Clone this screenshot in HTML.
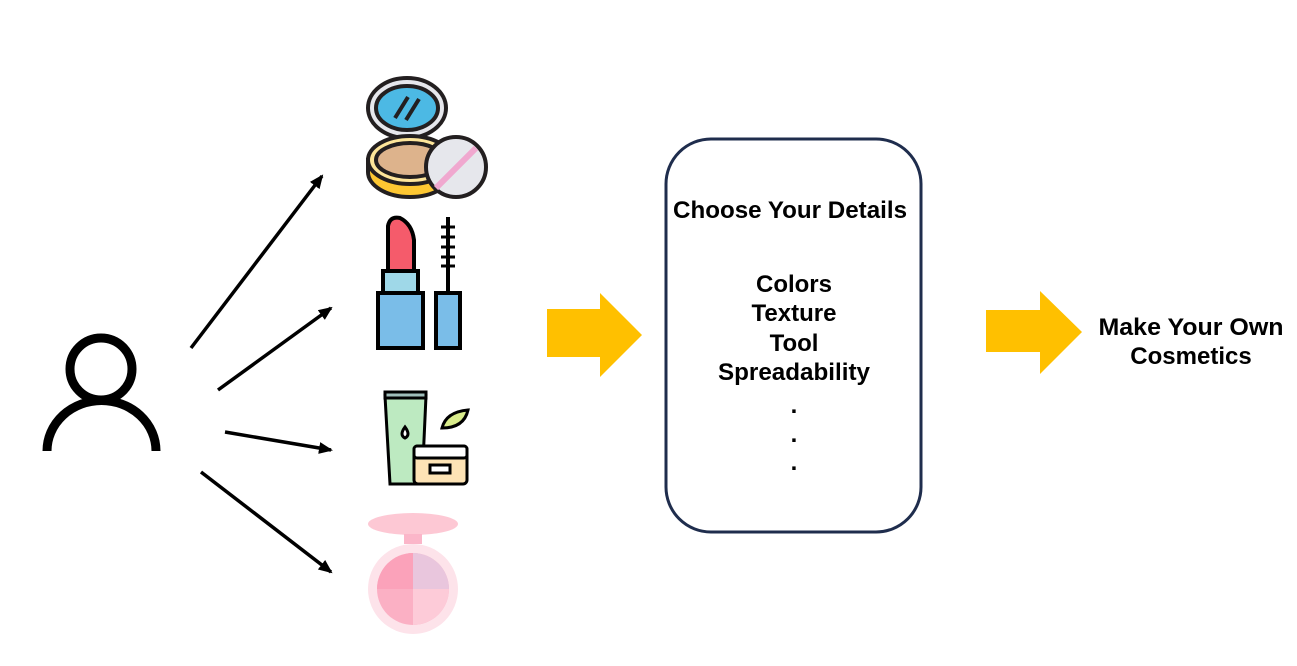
<!DOCTYPE html>
<html><head><meta charset="utf-8"><style>
html,body{margin:0;padding:0;background:#fff;}
svg{display:block}
text{font-family:"Liberation Sans",sans-serif;font-weight:bold;fill:#000;}
</style></head><body>
<svg width="1297" height="666" viewBox="0 0 1297 666" xmlns="http://www.w3.org/2000/svg">
<defs><marker id="ah" markerWidth="14" markerHeight="12" refX="12" refY="6" orient="auto" markerUnits="userSpaceOnUse"><path d="M0,0 L14,6 L0,12 Z" fill="#000"/></marker></defs>
<circle cx="101" cy="369" r="31" fill="none" stroke="#000" stroke-width="9"/>
<path d="M47,451 A54,50 0 0 1 156,451" fill="none" stroke="#000" stroke-width="9"/>
<g stroke="#000" stroke-width="3.5" fill="none">
<line x1="191" y1="348" x2="322" y2="176" marker-end="url(#ah)"/>
<line x1="218" y1="390" x2="331" y2="308" marker-end="url(#ah)"/>
<line x1="225" y1="432" x2="331" y2="450" marker-end="url(#ah)"/>
<line x1="201" y1="472" x2="331" y2="572" marker-end="url(#ah)"/>
</g>
<g stroke="#231f20" stroke-width="4">
<ellipse cx="407" cy="108" rx="39" ry="30" fill="#e6e7ec"/>
<ellipse cx="407" cy="108" rx="31" ry="22" fill="#4cb9e4"/>
<line x1="395" y1="118" x2="408" y2="97"/><line x1="406" y1="120" x2="419" y2="99"/>
<path d="M368,160 L368,172 A42,25 0 0 0 452,172 L452,160 Z" fill="#fdc732"/>
<ellipse cx="410" cy="160" rx="42" ry="24" fill="#fde59a"/>
<ellipse cx="410" cy="160" rx="34" ry="17" fill="#ddb38c"/>
<circle cx="456" cy="167" r="30" fill="#e6e7ec"/>
<line x1="436" y1="188" x2="476" y2="148" stroke="#f0a8cf" stroke-width="6"/>
</g>
<g stroke="#000" stroke-width="4">
<path d="M388,271 L388,226 Q390,216 400,218 Q412,224 414,240 L414,271 Z" fill="#f55b6b"/>
<rect x="383" y="271" width="35" height="22" fill="#9fd8e8"/>
<rect x="378" y="293" width="45" height="55" fill="#7abde8"/>
<rect x="436" y="293" width="24" height="55" fill="#7abde8"/>
<line x1="448" y1="217" x2="448" y2="293"/>
<g stroke-width="3"><line x1="441" y1="227" x2="455" y2="227"/><line x1="441" y1="237" x2="455" y2="237"/><line x1="441" y1="247" x2="455" y2="247"/><line x1="441" y1="257" x2="455" y2="257"/><line x1="441" y1="266" x2="455" y2="266"/></g>
</g>
<g stroke="#000" stroke-width="3">
<path d="M385,396 L426,396 L422,484 L390,484 Z" fill="#bdeac1"/>
<rect x="385" y="392" width="41" height="6" fill="#9fbdb9"/>
<path d="M405,427 q-6,8 0,11 q6,-3 0,-11z" fill="#fff"/>
<path d="M442,428 q4,-16 26,-18 q-4,18 -26,18z" fill="#d9ec8b"/>
<rect x="414" y="446" width="53" height="38" rx="4" fill="#fde3b5"/>
<rect x="414" y="446" width="53" height="12" rx="3" fill="#fff"/>
<rect x="430" y="465" width="20" height="8" fill="#fff"/>
</g>
<ellipse cx="413" cy="524" rx="45" ry="11" fill="#fdc8d4"/>
<rect x="404" y="534" width="18" height="10" fill="#fbb6c9"/>
<circle cx="413" cy="589" r="45" fill="#fde3ea"/>
<circle cx="413" cy="589" r="36" fill="#fbb0c4"/>
<path d="M413,589 L413,553 A36,36 0 0 1 449,589 Z" fill="#e9c6dd"/>
<path d="M413,589 L449,589 A36,36 0 0 1 413,625 Z" fill="#fdcbd8"/>
<path d="M413,589 L377,589 A36,36 0 0 1 413,553 Z" fill="#fba2ba"/>
<path d="M547,309 L600,309 L600,293 L642,335 L600,377 L600,357 L547,357 Z" fill="#ffc000"/>
<path d="M986,310 L1040,310 L1040,291 L1082,332 L1040,374 L1040,352 L986,352 Z" fill="#ffc000"/>
<rect x="666" y="139" width="255" height="393" rx="45" fill="#fff" stroke="#1f2d4d" stroke-width="3"/>
<g text-anchor="middle" font-size="24">
<text x="790" y="218" textLength="234" lengthAdjust="spacingAndGlyphs">Choose Your Details</text>
<text x="794" y="292">Colors</text>
<text x="794" y="321">Texture</text>
<text x="794" y="351">Tool</text>
<text x="794" y="380" textLength="152" lengthAdjust="spacingAndGlyphs">Spreadability</text>
<text x="794" y="413">.</text>
<text x="794" y="442">.</text>
<text x="794" y="470">.</text>
<text x="1191" y="335" textLength="185" lengthAdjust="spacingAndGlyphs">Make Your Own</text>
<text x="1191" y="364">Cosmetics</text>
</g>
</svg>
</body></html>
